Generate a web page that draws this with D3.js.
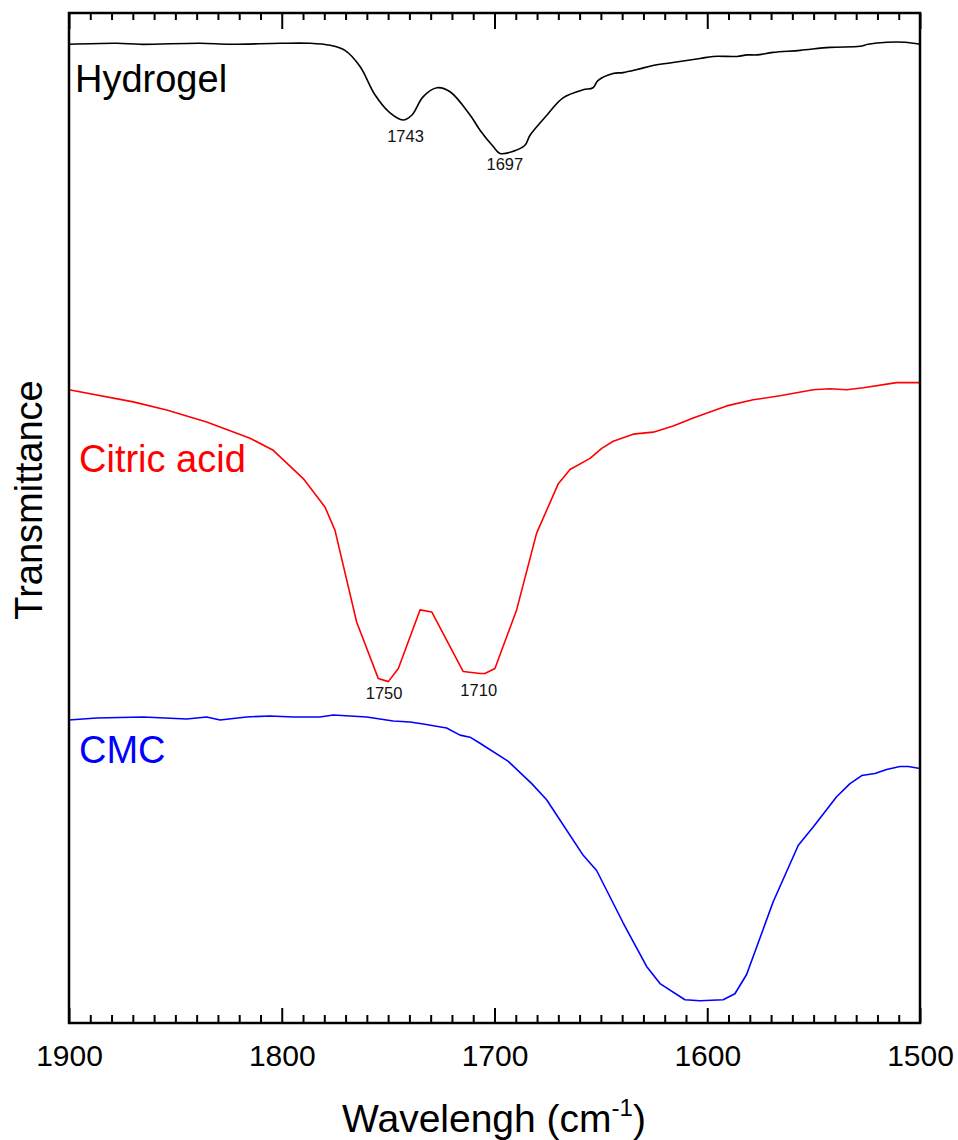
<!DOCTYPE html>
<html>
<head>
<meta charset="utf-8">
<script src="https://cdn.jsdelivr.net/npm/d3@7"></script>
<style>
  html, body { margin: 0; padding: 0; background: #fff; }
  svg { display: block; font-family: "Liberation Sans", Arial, sans-serif; }
</style>
</head>
<body>
<svg id="chart" width="958" height="1140"></svg>
<script>
// FTIR spectra, carbonyl region. Traces are offset vertically (arbitrary transmittance units).
const hydrogelWn = [1900, 1877.4, 1866.6, 1838.4, 1824.3, 1800.8, 1786.7, 1777.3, 1770.3, 1763.2,
  1756.2, 1749.1, 1743.0, 1738.8, 1733.6, 1727.0, 1720.9, 1711.5, 1706.8, 1700.7,
  1697.4, 1691.3, 1685.7, 1683.3, 1675.3, 1667.8, 1658.4, 1653.7, 1651.4, 1644.3,
  1639.6, 1633.0, 1625.5, 1616.1, 1603.4, 1597.3, 1586.0, 1581.3, 1576.6, 1569.1,
  1556.4, 1542.3, 1528.2, 1524.4, 1515.5, 1507.1, 1500];
const hydrogelT = [96.9, 97.0, 96.9, 97.0, 96.9, 97.0, 97.0, 96.8, 96.3, 94.7,
  91.9, 90.1, 89.4, 89.9, 91.7, 92.6, 92.2, 89.9, 88.4, 86.8,
  86.1, 86.3, 86.9, 87.9, 89.9, 91.6, 92.4, 92.6, 93.3, 94.0,
  94.1, 94.4, 94.8, 95.1, 95.5, 95.7, 95.7, 95.85, 95.85, 96.1,
  96.3, 96.6, 96.7, 96.9, 97.1, 97.1, 96.9];

const citricWn = [1900, 1869.8, 1854.1, 1835.3, 1814.9, 1804.0, 1789.9, 1779.7, 1775.0, 1764.8,
  1754.6, 1749.9, 1745.2, 1735.0, 1729.5, 1714.7, 1706.8, 1704.5, 1699.8, 1689.6,
  1680.2, 1670.0, 1664.5, 1655.1, 1649.6, 1644.2, 1634.8, 1625.4, 1616.0, 1606.6,
  1590.9, 1578.4, 1565.8, 1550.2, 1542.3, 1534.5, 1526.6, 1511.0, 1500];
const citricT = [62.7, 61.5, 60.7, 59.5, 57.9, 56.7, 53.9, 51.1, 48.8, 39.7,
  34.1, 33.8, 35.1, 40.9, 40.7, 34.8, 34.6, 34.6, 35.1, 40.9,
  48.5, 53.4, 54.8, 55.9, 56.9, 57.6, 58.3, 58.5, 59.1, 59.9,
  61.1, 61.7, 62.1, 62.7, 62.8, 62.7, 62.9, 63.4, 63.4];

const cmcWn = [1900, 1887.0, 1865.1, 1844.7, 1835.3, 1829.0, 1816.5, 1805.5, 1794.6, 1782.0,
  1775.8, 1760.1, 1747.6, 1739.7, 1733.5, 1722.5, 1716.2, 1711.5, 1706.8, 1693.5,
  1682.5, 1675.5, 1658.3, 1652.0, 1639.5, 1628.5, 1622.2, 1610.5, 1603.4, 1592.5,
  1587.0, 1581.5, 1569.0, 1557.2, 1550.2, 1539.2, 1532.9, 1527.4, 1521.2, 1515.7,
  1509.4, 1505.5, 1500];
const cmcT = [30.0, 30.2, 30.3, 30.1, 30.3, 30.0, 30.3, 30.4, 30.3, 30.3,
  30.5, 30.3, 29.9, 29.8, 29.6, 29.2, 28.5, 28.3, 27.7, 25.9,
  23.7, 22.1, 16.6, 15.1, 9.9, 5.6, 3.9, 2.3, 2.2, 2.3,
  2.9, 4.8, 12.0, 17.6, 19.4, 22.4, 23.7, 24.5, 24.7, 25.1,
  25.4, 25.4, 25.2];

const seriesNames = ["Hydrogel", "Citric acid", "CMC"];
const seriesColors = ["#000000", "#ff0000", "#0000ff"];

// Peak annotations (wavenumber) and the trace each belongs to
const peakWn = [1743, 1697, 1750, 1710];
const peakSeries = [0, 0, 1, 1];

const majorTicks = [1900, 1800, 1700, 1600, 1500];
const minorTicks = d3.range(1900, 1499, -10).filter(v => v % 100 !== 0);

// ---- layout ----
const plotLeft = 69, plotRight = 920, plotTop = 13, plotBottom = 1023;
const svg = d3.select("#chart");

const x = d3.scaleLinear().domain([1900, 1500]).range([plotLeft, plotRight]);
const y = d3.scaleLinear().domain([0, 100]).range([plotBottom, plotTop]);

const series = [
  { name: seriesNames[0], color: seriesColors[0], pts: hydrogelWn.map((w, i) => [w, hydrogelT[i]]), curve: d3.curveCatmullRom.alpha(0.5) },
  { name: seriesNames[1], color: seriesColors[1], pts: citricWn.map((w, i) => [w, citricT[i]]), curve: d3.curveLinear },
  { name: seriesNames[2], color: seriesColors[2], pts: cmcWn.map((w, i) => [w, cmcT[i]]), curve: d3.curveLinear }
];

// spectra
series.forEach(s => {
  const line = d3.line().x(d => x(d[0])).y(d => y(d[1])).curve(s.curve);
  svg.append("path")
    .datum(s.pts)
    .attr("d", line)
    .attr("fill", "none")
    .attr("stroke", s.color)
    .attr("stroke-width", 1.6)
    .attr("stroke-linejoin", "round");
});

// series names, inside the frame beneath each trace's left end
const nameY = [92, 472, 763];
const nameX = [75, 79, 79];
series.forEach((s, i) => {
  svg.append("text")
    .attr("x", nameX[i])
    .attr("y", nameY[i])
    .attr("fill", s.color)
    .attr("font-size", 38)
    .text(s.name);
});

// peak labels below each minimum, nudged so they don't collide with the trace
const peakDx = [2.5, 4, -4, 5.5];
const peakDy = [22, 17, 17, 23.5];
peakWn.forEach((w, i) => {
  const s = series[peakSeries[i]];
  const interp = d3.scaleLinear().domain(s.pts.map(p => p[0])).range(s.pts.map(p => p[1]));
  const ymin = y(interp(w));
  svg.append("text")
    .attr("x", x(w) + peakDx[i])
    .attr("y", ymin + peakDy[i])
    .attr("text-anchor", "middle")
    .attr("font-size", 16.5)
    .attr("fill", "#111")
    .text(String(w));
});

// frame
svg.append("rect")
  .attr("x", plotLeft).attr("y", plotTop)
  .attr("width", plotRight - plotLeft).attr("height", plotBottom - plotTop)
  .attr("fill", "none").attr("stroke", "#000").attr("stroke-width", 2.5);

// axes: major and minor ticks on top and bottom, all pointing inward
const bottomMajor = svg.append("g").attr("transform", `translate(0,${plotBottom})`)
  .call(d3.axisBottom(x).tickValues(majorTicks).tickSizeInner(-15).tickSizeOuter(0).tickPadding(22).tickFormat(d3.format("d")));
const bottomMinor = svg.append("g").attr("transform", `translate(0,${plotBottom})`)
  .call(d3.axisBottom(x).tickValues(minorTicks).tickSizeInner(-8).tickSizeOuter(0).tickFormat(""));
const topMajor = svg.append("g").attr("transform", `translate(0,${plotTop})`)
  .call(d3.axisTop(x).tickValues(majorTicks).tickSizeInner(-16).tickSizeOuter(0).tickFormat(""));
const topMinor = svg.append("g").attr("transform", `translate(0,${plotTop})`)
  .call(d3.axisTop(x).tickValues(minorTicks).tickSizeInner(-7).tickSizeOuter(0).tickFormat(""));

[bottomMajor, bottomMinor, topMajor, topMinor].forEach(g => {
  g.select(".domain").remove();
  g.selectAll(".tick line").attr("stroke", "#000").attr("stroke-width", 2);
  g.selectAll(".tick text")
    .attr("font-family", "'Liberation Sans', Arial, sans-serif")
    .attr("font-size", 30)
    .attr("fill", "#000");
});

// axis titles
const xTitle = svg.append("text")
  .attr("x", 494)
  .attr("y", 1132)
  .attr("text-anchor", "middle")
  .attr("font-size", 39)
  .attr("fill", "#000");
xTitle.append("tspan").text("Wavelengh (cm");
xTitle.append("tspan").attr("font-size", 24).attr("dy", -16).text("-1");
xTitle.append("tspan").attr("dy", 16).text(")");

svg.append("text")
  .attr("transform", "translate(42,500) rotate(-90)")
  .attr("text-anchor", "middle")
  .attr("font-size", 38)
  .attr("fill", "#000")
  .text("Transmittance");
</script>
</body>
</html>
